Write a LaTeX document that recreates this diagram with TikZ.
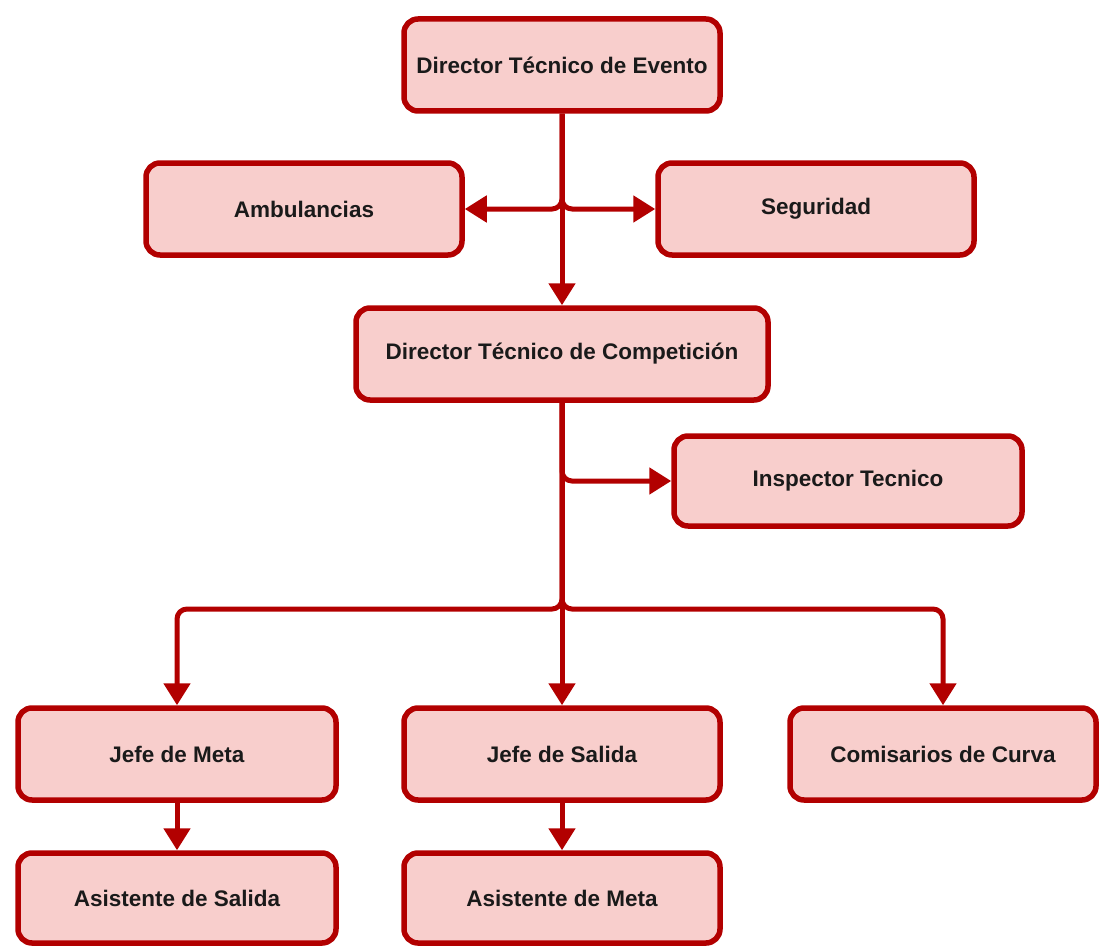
\documentclass[tikz,border=0pt]{standalone}
\usepackage{fontspec}
\setmainfont{Liberation Sans}
\usetikzlibrary{arrows.meta,shadows}
\definecolor{edge}{HTML}{B20000}
\definecolor{boxfill}{HTML}{F8CECC}
\definecolor{txt}{HTML}{1A1A1A}
\tikzset{
  orgbox/.style={draw=edge, fill=boxfill, line width=5.5pt, rounded corners=14pt,
    minimum height=92pt, text=txt, font=\bfseries\fontsize{22.5}{26}\selectfont,
    drop shadow={opacity=0.25, shadow xshift=2pt, shadow yshift=-2pt}},
  link/.style={draw=edge, line width=5pt, rounded corners=10pt,
    -{Triangle[length=22pt,width=26pt]}}
}
\begin{document}
\begin{tikzpicture}[x=1pt,y=-1pt]
\useasboundingbox (0,0) rectangle (1102,947);
\node[orgbox, minimum width=316pt] (evento) at (562,65) {Director Técnico de Evento};
\node[orgbox, minimum width=316pt] (ambul) at (304,209) {Ambulancias};
\node[orgbox, minimum width=316pt] (segur) at (816,209) {Seguridad};
\node[orgbox, minimum width=412pt] (compet) at (562,354) {Director Técnico de Competición};
\node[orgbox, minimum width=348pt, minimum height=90pt] (inspec) at (848,481) {Inspector Tecnico};
\node[orgbox, minimum width=318pt] (jmeta) at (177,754) {Jefe de Meta};
\node[orgbox, minimum width=316pt] (jsalida) at (562,754) {Jefe de Salida};
\node[orgbox, minimum width=306pt] (comis) at (943,754) {Comisarios de Curva};
\node[orgbox, minimum width=318pt, minimum height=90pt] (asalida) at (177,898) {Asistente de Salida};
\node[orgbox, minimum width=316pt, minimum height=90pt] (ameta) at (562,898) {Asistente de Meta};

\coordinate (split) at (562,609);

\draw[link] (evento.south) |- (ambul.east);
\draw[link] (evento.south) |- (segur.west);
\draw[link] (evento.south) -- (compet.north);
\draw[link] (compet.south) |- (inspec.west);
\draw[link] (compet.south) |- (split) -| (jmeta.north);
\draw[link] (compet.south) -- (jsalida.north);
\draw[link] (compet.south) |- (split) -| (comis.north);
\draw[link] (jmeta.south) -- (asalida.north);
\draw[link] (jsalida.south) -- (ameta.north);
\end{tikzpicture}
\end{document}
